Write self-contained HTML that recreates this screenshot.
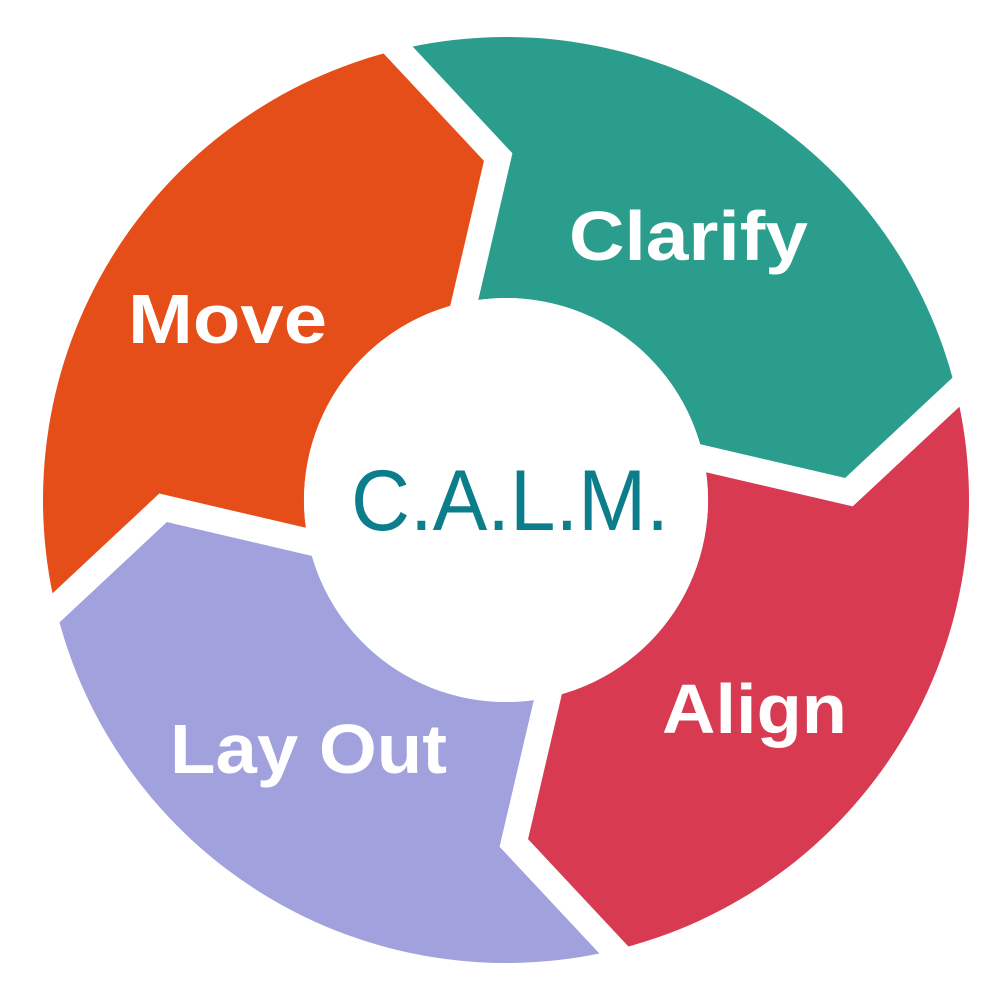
<!DOCTYPE html>
<html>
<head>
<meta charset="utf-8">
<style>
  html, body { margin: 0; padding: 0; background: #ffffff; }
  body { width: 1000px; height: 1000px; overflow: hidden; }
  svg { display: block; }
  .lbl { font-family: "Liberation Sans", sans-serif; font-weight: bold; font-size: 70px; fill: #ffffff; }
  .calm { font-family: "Liberation Sans", sans-serif; font-weight: normal; font-size: 86px; fill: #0C7E8B; }
</style>
</head>
<body>
<svg width="1000" height="1000" viewBox="0 0 1000 1000" xmlns="http://www.w3.org/2000/svg">
  <rect width="1000" height="1000" fill="#ffffff"/>
  <!-- Teal: Clarify -->
  <path fill="#2B9D8D" d="M397.9,49.8 A463,463 0 0 1 956.2,391.9 L848.9,492.2 L703.7,458.4 A202,202 0 0 0 464.35,302.34 L498.2,157.1 Z"/>
  <!-- Red: Align -->
  <path fill="#D83A52" d="M956.2,391.9 A463,463 0 0 1 614.1,950.2 L513.8,842.9 L547.7,697.7 A202,202 0 0 0 703.7,458.4 L848.9,492.2 Z"/>
  <!-- Purple: Lay Out -->
  <path fill="#A1A1DE" d="M614.1,950.2 A463,463 0 0 1 55.8,608.1 L163.1,507.8 L308.3,541.7 A202,202 0 0 0 547.7,697.7 L513.8,842.9 Z"/>
  <!-- Orange: Move -->
  <path fill="#E54E18" d="M55.8,608.1 A463,463 0 0 1 397.9,49.8 L498.2,157.1 L464.35,302.34 A202,202 0 0 0 308.3,541.7 L163.1,507.8 Z"/>

  <!-- white gaps -->
  <g fill="none" stroke="#ffffff" stroke-width="26" stroke-linejoin="miter" stroke-miterlimit="10">
    <polyline points="382.9,33.7 498.2,157.1 459.3,324.1"/>
    <polyline points="972.3,376.9 848.9,492.2 681.9,453.3"/>
    <polyline points="629.1,966.3 513.8,842.9 552.8,675.9"/>
    <polyline points="39.7,623.1 163.1,507.8 330.1,546.8"/>
  </g>

  <!-- center -->
  <circle cx="506" cy="500" r="202" fill="#ffffff"/>

  <text class="calm" x="351" y="530" textLength="318" lengthAdjust="spacingAndGlyphs">C.A.L.M.</text>

  <text class="lbl" x="569" y="260" textLength="239" lengthAdjust="spacingAndGlyphs">Clarify</text>
  <text class="lbl" x="128" y="343" textLength="199" lengthAdjust="spacingAndGlyphs">Move</text>
  <text class="lbl" x="662" y="733" textLength="185" lengthAdjust="spacingAndGlyphs">Align</text>
  <text class="lbl" x="170" y="773" textLength="277" lengthAdjust="spacingAndGlyphs">Lay Out</text>
</svg>
</body>
</html>
